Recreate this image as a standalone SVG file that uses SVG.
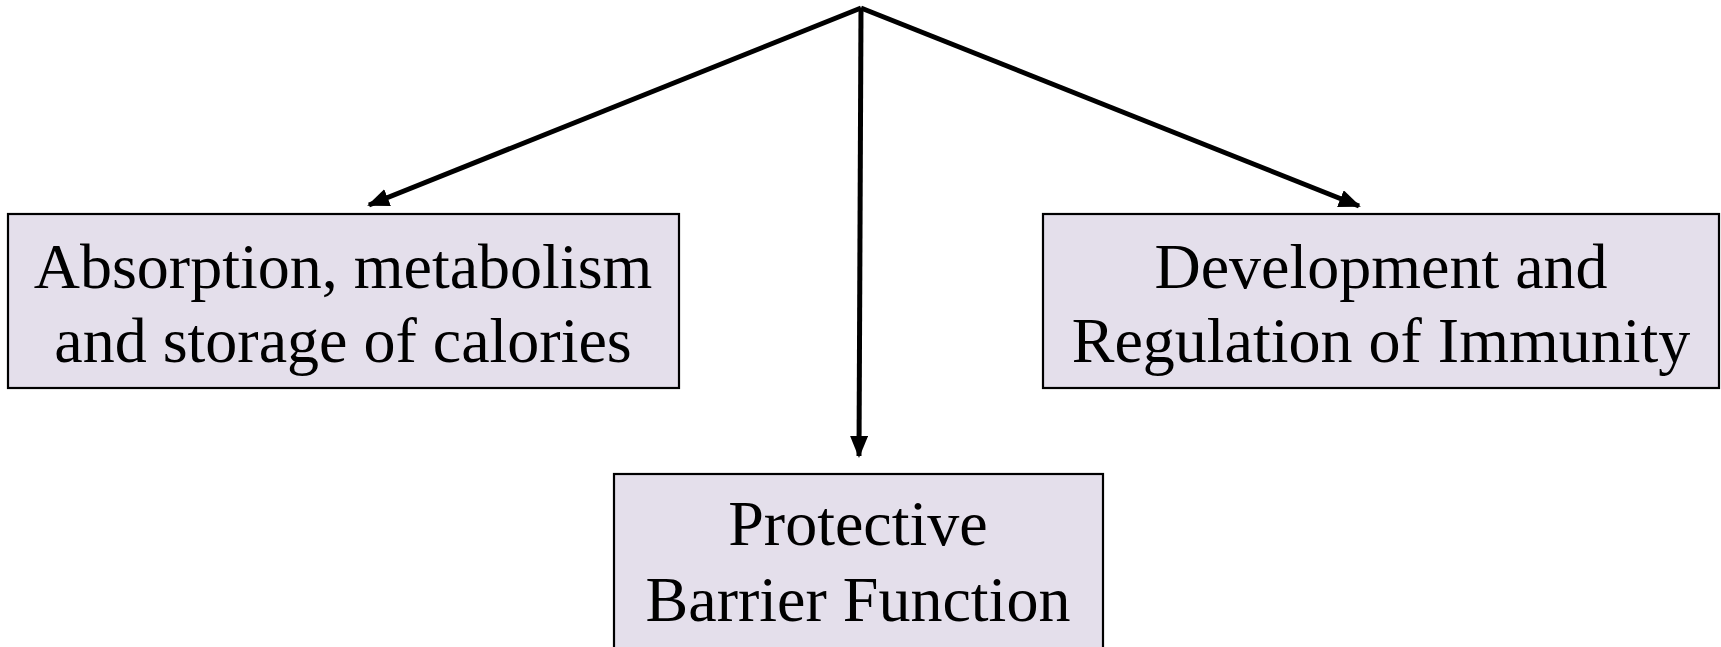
<svg xmlns="http://www.w3.org/2000/svg" width="1721" height="647" viewBox="0 0 1721 647">
<style>
.box{fill:#e4dfeb;stroke:#000;stroke-width:2.2}
.t{font-family:"Liberation Serif","Times New Roman",serif;font-size:64px;fill:#000;text-anchor:middle}
.c{stroke:#000;stroke-width:5;fill:none}
</style>
<defs>
<marker id="ah" markerWidth="22" markerHeight="18" refX="20" refY="9" orient="auto" markerUnits="userSpaceOnUse">
<path d="M0,0 L22,9 L0,18 Z" fill="#000"/>
</marker>
</defs>
<rect width="1721" height="647" fill="#fff"/>
<g id="connectors">
<line class="c" x1="861" y1="8" x2="369" y2="205" marker-end="url(#ah)"/>
<line class="c" x1="861" y1="8" x2="1359" y2="206" marker-end="url(#ah)"/>
<line class="c" x1="861" y1="8" x2="859" y2="456" marker-end="url(#ah)"/>
</g>
<g id="node-absorption">
<rect class="box" x="8" y="214" width="671" height="174"/>
<text class="t" x="343" y="288">Absorption, metabolism</text>
<text class="t" x="343" y="362">and storage of calories</text>
</g>
<g id="node-immunity">
<rect class="box" x="1043" y="214" width="676" height="174"/>
<text class="t" x="1381" y="288">Development and</text>
<text class="t" x="1381" y="362">Regulation of Immunity</text>
</g>
<g id="node-barrier">
<rect class="box" x="614" y="474" width="489" height="190"/>
<text class="t" x="858" y="545">Protective</text>
<text class="t" x="858" y="621">Barrier Function</text>
</g>
</svg>
